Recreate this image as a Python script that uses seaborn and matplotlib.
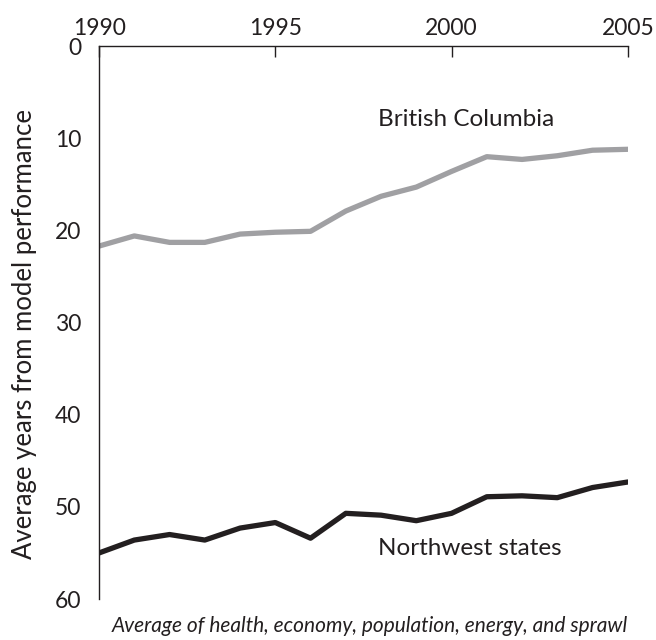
import pandas as pd
import matplotlib.pyplot as plt
import seaborn as sns

# Data
years = list(range(1990, 2006))
bc_years = [21.7, 20.6, 21.3, 21.3, 20.4, 20.2, 20.1, 17.9, 16.3, 15.3, 13.6, 12.0, 12.3, 11.9, 11.3, 11.2]
nw_years = [55.0, 53.6, 53.0, 53.6, 52.3, 51.7, 53.4, 50.7, 50.9, 51.5, 50.7, 48.9, 48.8, 49.0, 47.9, 47.3]
regions = ["British Columbia", "Northwest states"]
x_ticks = [1990, 1995, 2000, 2005]
y_ticks = [0, 10, 20, 30, 40, 50, 60]

df = pd.DataFrame({
    "year": years * 2,
    "value": bc_years + nw_years,
    "region": [regions[0]] * len(years) + [regions[1]] * len(years),
})

sns.set_style("white")
plt.rcParams["font.family"] = ["Lato", "DejaVu Sans"]
ink = "#231f20"

fig = plt.figure(figsize=(6.56, 6.40), dpi=100)
ax = fig.add_axes([0.151, 0.064, 0.806, 0.864])

sns.lineplot(data=df, x="year", y="value", hue="region",
             palette={regions[0]: "#a0a0a3", regions[1]: ink},
             linewidth=3.8, legend=False, ax=ax)

ax.set_xlim(1990, 2005)
ax.set_ylim(60, 0)
ax.set_xticks(x_ticks)
ax.set_yticks(y_ticks)
ax.xaxis.tick_top()
ax.tick_params(axis="x", direction="in", length=8, width=1, labelsize=16.5,
               colors=ink, pad=5)
ax.tick_params(axis="y", direction="out", length=9, width=1, labelsize=16.5,
               colors=ink, pad=4)

for s in ["right", "bottom"]:
    ax.spines[s].set_visible(False)
for s in ["top", "left"]:
    ax.spines[s].set_color(ink)
    ax.spines[s].set_linewidth(1)

ax.set_xlabel("")
ax.set_ylabel("Average years from model performance", fontsize=18.5,
              color=ink, labelpad=8)
ax.yaxis.set_label_coords(-0.118, 0.48)

ax.text(1997.9, 8.0, "British Columbia", fontsize=17.5, color=ink, va="center")
ax.text(1997.9, 54.5, "Northwest states", fontsize=17.5, color=ink, va="center")

fig.text(0.957, 0.022, "Average of health, economy, population, energy, and sprawl",
         ha="right", va="center", fontsize=15, style="italic", color=ink)

fig.savefig("out.png", dpi=100)
